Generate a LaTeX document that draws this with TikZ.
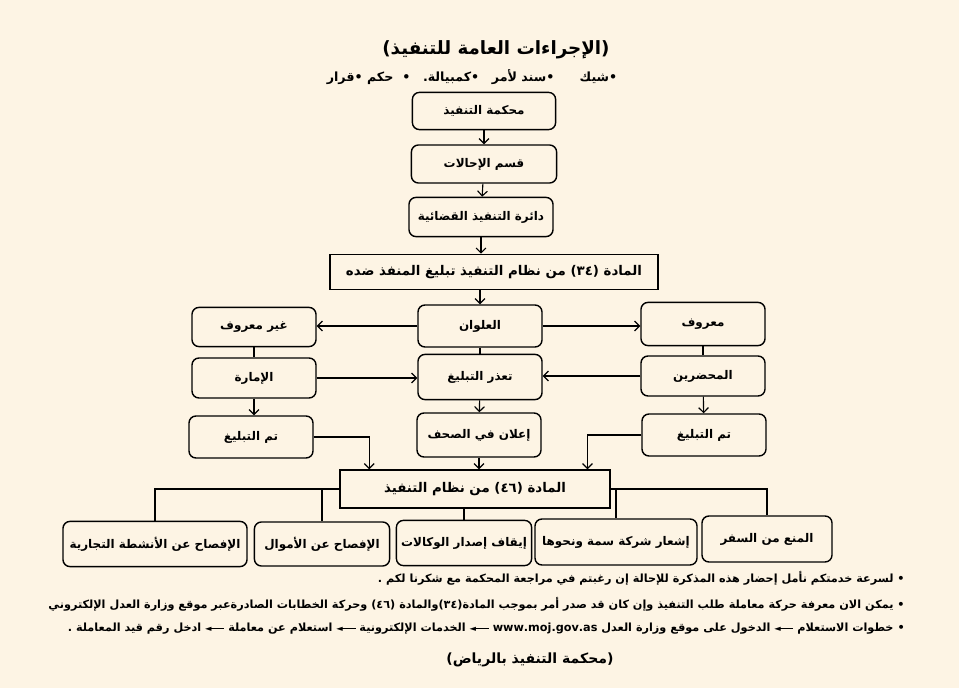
\documentclass[tikz,border=0pt]{standalone}
\usepackage{fontspec}
\usetikzlibrary{arrows.meta}
\TeXXeTstate=1
\newfontfamily\arabicfont[Script=Arabic]{DejaVu Sans}
\newcommand{\artxt}[1]{\arabicfont\bfseries\beginR #1\endR}
\newcommand{\stepto}{\beginL{\fontsize{6}{6}\selectfont ◄}\kern-1pt\rule[2.1pt]{10pt}{0.9pt}\endL}
\definecolor{paper}{HTML}{FDF4E4}

\begin{document}
\begin{tikzpicture}[x=0.025cm, y=-0.025cm,
    box/.style={draw, rounded corners=5pt, line width=1pt, minimum width=3.1cm, minimum height=1.05cm, inner sep=0pt, font=\fontsize{8.5}{10}\selectfont},
    law/.style={draw, line width=1pt, inner sep=0pt, font=\fontsize{9.5}{11}\selectfont},
    line/.style={line width=0.8pt},
    arr/.style={line width=0.8pt, -{Straight Barb[length=3.5pt,width=7pt]}},
    note/.style={anchor=east, inner sep=0pt, font=\fontsize{8}{10}\selectfont}
]
    \fill[paper] (0,0) rectangle (959,688);
    \useasboundingbox (0,0) rectangle (959,688);

    % Title and kinds of bonds
    \node[font=\fontsize{13}{15}\selectfont] (title) at (496,50) {\artxt{(الإجراءات العامة للتنفيذ)}};
    \node[font=\fontsize{9}{11}\selectfont] (kinds) at (472,77) {\artxt{•شيك\quad\quad •سند لأمر\quad •كمبيالة.\quad •\ \ حكم •قرار}};

    % Upper chain
    \node[box, minimum width=3.58cm, minimum height=0.93cm] (court) at (484,111) {\artxt{محكمة التنفيذ}};
    \node[box, minimum width=3.63cm, minimum height=0.95cm] (referral) at (484,164) {\artxt{قسم الإحالات}};
    \node[box, minimum width=3.6cm, minimum height=0.98cm] (circuit) at (481,217) {\artxt{دائرة التنفيذ القضائية}};
    \node[law, minimum width=8.2cm, minimum height=0.88cm] (art34) at (494,272) {\artxt{المادة (٣٤) من نظام التنفيذ تبليغ المنفذ ضده}};

    % Address row
    \node[box, minimum height=0.98cm] (unknown) at (254,327) {\artxt{غير معروف}};
    \node[box] (address) at (480,326) {\artxt{العلوان}};
    \node[box, minimum height=1.08cm] (known) at (703,324) {\artxt{معروف}};

    % Second row
    \node[box, minimum height=1cm] (emirate) at (254,378) {\artxt{الإمارة}};
    \node[box, minimum height=1.13cm] (failed) at (480,377) {\artxt{تعذر التبليغ}};
    \node[box, minimum height=1cm] (bailiffs) at (703,376) {\artxt{المحضرين}};

    % Third row
    \node[box] (doneL) at (251,437) {\artxt{تم التبليغ}};
    \node[box, minimum height=1.1cm] (press) at (479,435) {\artxt{إعلان في الصحف}};
    \node[box] (doneR) at (704,435) {\artxt{تم التبليغ}};

    % Article 46 and its measures
    \node[law, minimum width=6.75cm, minimum height=0.95cm] (art46) at (475,489) {\artxt{المادة (٤٦) من نظام التنفيذ}};
    \node[box, minimum width=4.6cm, minimum height=1.13cm] (trade) at (155,544) {\artxt{الإفصاح عن الأنشطة التجارية}};
    \node[box, minimum width=3.38cm, minimum height=1.1cm] (money) at (322,544) {\artxt{الإفصاح عن الأموال}};
    \node[box, minimum width=3.38cm, minimum height=1.13cm] (proxy) at (464,543) {\artxt{إيقاف إصدار الوكالات}};
    \node[box, minimum width=4.05cm, minimum height=1.15cm] (simah) at (616,542) {\artxt{إشعار شركة سمة ونحوها}};
    \node[box, minimum width=3.25cm, minimum height=1.15cm] (travel) at (767,539) {\artxt{المنع من السفر}};

    % Arrows of the chain
    \draw[arr] (court) -- (referral);
    \draw[arr] (referral) -- (circuit);
    \draw[arr] (circuit.south) -- (circuit.south |- art34.north);
    \draw[arr] (address.north |- art34.south) -- (address.north);
    \draw[arr] (address.west) -- (address.west -| unknown.east);
    \draw[arr] (address.east) -- (address.east -| known.west);
    \draw[line] (unknown) -- (emirate);
    \draw[line] (address) -- (failed);
    \draw[line] (known) -- (bailiffs);
    \draw[arr] (emirate.east) -- (emirate.east -| failed.west);
    \draw[arr] (bailiffs.west) -- (bailiffs.west -| failed.east);
    \draw[arr] (emirate.south) -- (emirate.south |- doneL.north);
    \draw[arr] (failed) -- (press);
    \draw[arr] (bailiffs) -- (doneR);
    \draw[arr] (doneL.east) -| ([xshift=0.75cm]art46.north west);
    \draw[arr] (press.south) -- (press.south |- art46.north);
    \draw[arr] (doneR.west) -| ([xshift=-0.58cm]art46.north east);

    % Branches of article 46
    \draw[line] (art46.west) -| (trade.north);
    \draw[line] (money.north |- art46.west) -- (money.north);
    \draw[line] (proxy.north |- art46.south) -- (proxy.north);
    \draw[line] (art46.east) -| (travel.north);
    \draw[line] (simah.north |- art46.east) -- (simah.north);

    % Notes
    \node[note] (note1) at (905,578) {\artxt{• لسرعة خدمتكم نأمل إحضار هذه المذكرة للإحالة إن رغبتم في مراجعة المحكمة مع شكرنا لكم .}};
    \node[note] (note2) at (905,604) {\artxt{• يمكن الان معرفة حركة معاملة طلب التنفيذ وإن كان قد صدر أمر بموجب المادة(٣٤)والمادة (٤٦) وحركة الخطابات الصادرةعبر موقع وزارة العدل الإلكتروني}};
    \node[note] (note3) at (905,629) {\artxt{• خطوات الاستعلام \stepto{} الدخول على موقع وزارة العدل \beginL www.moj.gov.as\endL{} \stepto{} الخدمات الإلكترونية \stepto{} استعلام عن معاملة \stepto{} ادخل رقم قيد المعاملة .}};
    \node[font=\fontsize{10}{12}\selectfont] (footer) at (530,660) {\artxt{(محكمة التنفيذ بالرياض)}};
\end{tikzpicture}
\end{document}
